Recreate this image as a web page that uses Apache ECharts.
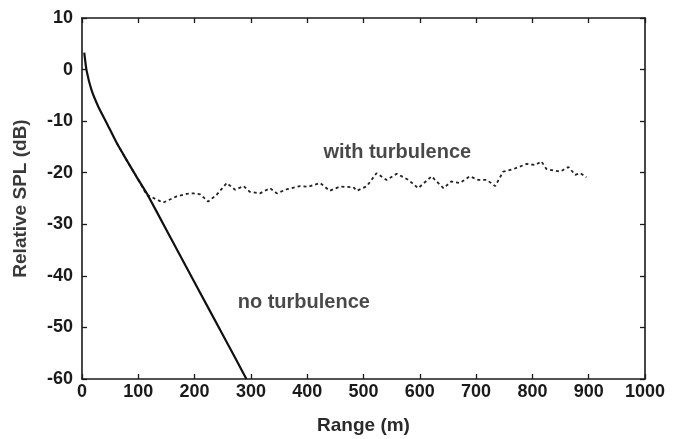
<!DOCTYPE html>
<html><head><meta charset="utf-8">
<script src="https://cdn.jsdelivr.net/npm/echarts@6/dist/echarts.min.js"></script>
<style>html,body{margin:0;padding:0;background:#fff}#c{width:684px;height:439px}</style>
</head><body><div id="c"></div>
<script>
const xTicks = [0,100,200,300,400,500,600,700,800,900,1000];
const yTicks = [-60,-50,-40,-30,-20,-10,0,10];
const noTurbRange = [4,8,17,29,44,62,79,97,115,150,200,250,292];
const noTurbSPL   = [3.3,-0.1,-4.0,-7.2,-10.4,-14.3,-17.5,-20.8,-24.0,-31.1,-41.3,-51.4,-60];
const turbRange = [62,79,97,115,127,144,168,186,198,210,224,239,257,272,287,298,316,334,346,364,387,402,423,440,458,482,488,506,523,541,559,580,597,621,630,642,656,671,689,704,719,734,748,766,790,805,816,825,849,864,876,885,896];
const turbSPL   = [-14.3,-17.5,-20.8,-24.3,-24.9,-25.8,-24.6,-24.1,-24.0,-24.2,-25.6,-24.3,-22.0,-23.3,-22.6,-23.7,-24.0,-23.0,-24.0,-23.2,-22.6,-22.7,-22.0,-23.5,-22.7,-22.8,-23.5,-22.6,-20.1,-21.4,-20.2,-21.4,-23.0,-20.7,-21.7,-23.0,-21.7,-22.0,-20.7,-21.4,-21.4,-22.6,-19.8,-19.3,-18.3,-18.5,-17.8,-19.3,-19.8,-18.9,-20.4,-20.1,-20.9];
const labels = [{text:'with turbulence', x:560, y:-16.1}, {text:'no turbulence', x:394, y:-45.2}];

const ff = '"Liberation Sans", Arial, sans-serif';
const chart = echarts.init(document.getElementById('c'));
const axLine = {show:true, onZero:false, lineStyle:{color:'#1a1a1a', width:1.6}};
const tick = {show:true, inside:true, length:5, lineStyle:{color:'#1a1a1a', width:1.3}};
const lab = {color:'#1a1a1a', fontFamily:ff, fontWeight:'bold', fontSize:18};
chart.setOption({
  animation:false,
  grid:{left:82, right:39, top:18, bottom:60, show:false, containLabel:false, outerBoundsMode:'none'},
  xAxis:[
    {type:'value', min:0, max:1000, interval:100, position:'bottom', axisLine:axLine, axisTick:tick, splitLine:{show:false},
     axisLabel:Object.assign({margin:4, formatter:v=>String(v)}, lab),
     name:'Range (m)', nameLocation:'middle', nameGap:37, nameTextStyle:{color:'#2a2a2a', fontFamily:ff, fontWeight:'bold', fontSize:19}},
    {type:'value', min:0, max:1000, interval:100, position:'top', axisLine:axLine, axisTick:tick, splitLine:{show:false}, axisLabel:{show:false}}
  ],
  yAxis:[
    {type:'value', min:-60, max:10, interval:10, position:'left', axisLine:axLine, axisTick:tick, splitLine:{show:false},
     axisLabel:Object.assign({margin:9}, lab),
     name:'Relative SPL (dB)', nameLocation:'middle', nameGap:52, nameRotate:90, nameTextStyle:{color:'#3a3a3a', fontFamily:ff, fontWeight:'bold', fontSize:19}},
    {type:'value', min:-60, max:10, interval:10, position:'right', axisLine:axLine, axisTick:tick, splitLine:{show:false}, axisLabel:{show:false}}
  ],
  series:[
    {type:'line', data:noTurbRange.map((r,i)=>[r,noTurbSPL[i]]), smooth:0.15, symbol:'none', lineStyle:{color:'#111', width:2.2}, z:3},
    {type:'line', data:turbRange.map((r,i)=>[r,turbSPL[i]]), symbol:'none', lineStyle:{color:'#222', width:1.8, type:[3,3]}, z:2},
    {type:'scatter', data:labels.map(l=>[l.x,l.y]), symbolSize:0,
     label:{show:true, position:'inside', formatter:p=>labels[p.dataIndex].text, color:'#1a1a1a', fontFamily:ff, fontWeight:'bold', fontSize:20}}
  ]
});
</script></body></html>
